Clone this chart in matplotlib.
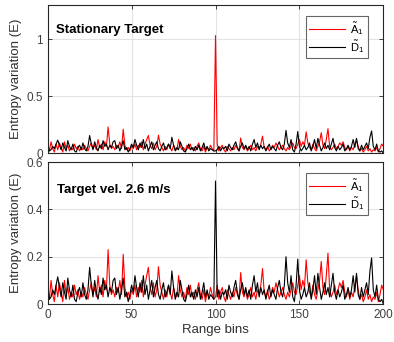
import numpy as np
import matplotlib
matplotlib.use('Agg')
import matplotlib.pyplot as plt

plt.rcParams['font.family'] = ['Liberation Sans', 'DejaVu Sans']
plt.rcParams['mathtext.fontset'] = 'custom'
plt.rcParams['mathtext.rm'] = 'Liberation Sans'
plt.rcParams['mathtext.it'] = 'Liberation Sans'

# range bins 0..200
bins = np.arange(0, 201)

# black curve (D~1)
black = [0.09, 0.02, 0.03, 0.06, 0.04, 0.08, 0.115, 0.07, 0.03, 0.09,
         0.05, 0.02, 0.11, 0.06, 0.03, 0.08, 0.02, 0.01, 0.05, 0.07,
         0.03, 0.09, 0.04, 0.02, 0.06, 0.155, 0.08, 0.03, 0.10, 0.05,
         0.02, 0.07, 0.04, 0.11, 0.06, 0.08, 0.03, 0.07, 0.05, 0.10,
         0.11, 0.04, 0.07, 0.02, 0.06, 0.11, 0.03, 0.05, 0.01, 0.04,
         0.08, 0.05, 0.12, 0.07, 0.03, 0.09, 0.05, 0.12, 0.04, 0.08,
         0.02, 0.06, 0.10, 0.03, 0.07, 0.10, 0.04, 0.02, 0.06, 0.09,
         0.03, 0.05, 0.08, 0.04, 0.14, 0.07, 0.02, 0.05, 0.03, 0.10,
         0.06, 0.02, 0.01, 0.04, 0.08, 0.03, 0.05, 0.02, 0.06, 0.03,
         0.07, 0.02, 0.05, 0.09, 0.03, 0.06, 0.02, 0.04, 0.03, 0.02,
         0.02,
         0.03, 0.06, 0.02, 0.05, 0.04, 0.06, 0.02, 0.08, 0.05,
         0.03, 0.07, 0.10, 0.05, 0.02, 0.06, 0.09, 0.04, 0.07, 0.03,
         0.06, 0.02, 0.08, 0.12, 0.05, 0.09, 0.03, 0.07, 0.04, 0.06,
         0.02, 0.05, 0.08, 0.03, 0.06, 0.04, 0.02, 0.07, 0.10, 0.05,
         0.03, 0.08, 0.20, 0.09, 0.05, 0.12, 0.03, 0.01, 0.08, 0.19,
         0.06, 0.02, 0.04, 0.07, 0.03, 0.05, 0.09, 0.02, 0.06, 0.12,
         0.04, 0.13, 0.07, 0.02, 0.05, 0.09, 0.04, 0.07, 0.03, 0.08,
         0.13, 0.05, 0.02, 0.06, 0.03, 0.05, 0.08, 0.02, 0.04, 0.07,
         0.03, 0.06, 0.12, 0.05, 0.13, 0.04, 0.02, 0.07, 0.03, 0.06,
         0.09, 0.04, 0.14, 0.195, 0.06, 0.03, 0.08, 0.02, 0.01, 0.02,
         0.0]

# red curve (A~1)
red = [0.06, 0.02, 0.10, 0.04, 0.01, 0.08, 0.03, 0.09, 0.05, 0.01,
       0.10, 0.04, 0.07, 0.02, 0.05, 0.03, 0.08, 0.04, 0.06, 0.02,
       0.05, 0.03, 0.07, 0.04, 0.02, 0.06, 0.09, 0.04, 0.07, 0.03,
       0.12, 0.05, 0.08, 0.03, 0.10, 0.06, 0.23, 0.08, 0.04, 0.06,
       0.03, 0.07, 0.05, 0.10, 0.04, 0.21, 0.07, 0.03, 0.05, 0.02,
       0.06, 0.04, 0.08, 0.03, 0.07, 0.05, 0.10, 0.03, 0.08, 0.12,
       0.155, 0.07, 0.04, 0.09, 0.03, 0.06, 0.158, 0.08, 0.05, 0.02,
       0.06, 0.03, 0.08, 0.05, 0.02, 0.07, 0.04, 0.03, 0.12, 0.06,
       0.03, 0.05, 0.02, 0.07, 0.04, 0.08, 0.03, 0.05, 0.02, 0.06,
       0.09, 0.04, 0.02, 0.06, 0.01, 0.05, 0.03, 0.07, 0.04, 0.02,
       0.03,
       0.08, 0.02, 0.05, 0.07, 0.03, 0.01, 0.06, 0.04, 0.02,
       0.05, 0.03, 0.07, 0.04, 0.02, 0.133, 0.05, 0.03, 0.06, 0.02,
       0.04, 0.07, 0.03, 0.05, 0.02, 0.06, 0.04, 0.08, 0.15, 0.05,
       0.03, 0.06, 0.02, 0.04, 0.07, 0.05, 0.09, 0.06, 0.03, 0.05,
       0.07, 0.04, 0.02, 0.05, 0.03, 0.06, 0.09, 0.05, 0.04, 0.08,
       0.12, 0.06, 0.10, 0.07, 0.187, 0.09, 0.05, 0.03, 0.08, 0.04,
       0.02, 0.06, 0.10, 0.18, 0.07, 0.04, 0.12, 0.215, 0.06, 0.03,
       0.05, 0.08, 0.04, 0.06, 0.09, 0.07, 0.10, 0.05, 0.03, 0.06,
       0.02, 0.05, 0.03, 0.08, 0.12, 0.06, 0.02, 0.04, 0.01, 0.03,
       0.06, 0.02, 0.04, 0.01, 0.03, 0.02, 0.05, 0.01, 0.04, 0.08,
       0.06]

# target bin 100: red spike when stationary, black spike when moving
target_bin = 100
top_red_peak = 1.03
bottom_black_peak = 0.52

top_red = np.array(red); top_red[target_bin] = top_red_peak
top_black = np.array(black)
bot_red = np.array(red)
bot_black = np.array(black); bot_black[target_bin] = bottom_black_peak

titles = ['Stationary Target', 'Target vel. 2.6 m/s']
ylims = [(0, 1.3), (0, 0.6)]
yticks = [[0, 0.5, 1], [0, 0.2, 0.4, 0.6]]
yticklabels = [['0', '0.5', '1'], ['0', '0.2', '0.4', '0.6']]

fig = plt.figure(figsize=(3.94, 3.42), dpi=100)
ax1 = fig.add_axes([0.121, 0.552, 0.852, 0.434])
ax2 = fig.add_axes([0.121, 0.111, 0.852, 0.415])

tc = '#262626'
for i, (ax, r, k) in enumerate([(ax1, top_red, top_black), (ax2, bot_red, bot_black)]):
    ax.plot(bins, r, color='#ff0000', lw=0.8, label=r'$\tilde{\mathrm{A}}_1$')
    ax.plot(bins, k, color='black', lw=0.8, label=r'$\tilde{\mathrm{D}}_1$')
    ax.set_xlim(0, 200)
    ax.set_ylim(*ylims[i])
    ax.set_xticks([0, 50, 100, 150, 200])
    ax.set_yticks(yticks[i])
    ax.set_yticklabels(yticklabels[i])
    ax.grid(True, color='#e3e3e3', lw=0.8)
    ax.set_axisbelow(True)
    ax.tick_params(direction='in', top=True, right=True, length=3,
                   labelsize=8.5, colors=tc, labelcolor='#404040', width=0.6)
    for s in ax.spines.values():
        s.set_color(tc)
        s.set_linewidth(0.8)
    ax.set_ylabel('Entropy variation (E)', fontsize=9.5, color='#303030')
    ax.yaxis.set_label_coords(-0.076, 0.5)
    leg = ax.legend(loc='upper right', fontsize=8, handlelength=3.2,
                    frameon=True, fancybox=False, borderpad=0.3,
                    labelspacing=0.1, handletextpad=0.5,
                    bbox_to_anchor=(0.97, 0.96))
    leg.get_frame().set_edgecolor('#404040')
    leg.get_frame().set_linewidth(0.8)

ax1.set_xticklabels([])
ax1.text(0.025, 0.827, titles[0], transform=ax1.transAxes, fontsize=9.5,
         fontweight='bold', va='center')
ax2.text(0.028, 0.80, titles[1], transform=ax2.transAxes, fontsize=9.5,
         fontweight='bold', va='center')
ax2.set_xlabel('Range bins', fontsize=9.5, color='#303030', labelpad=2)

fig.savefig('out.png', dpi=100)
